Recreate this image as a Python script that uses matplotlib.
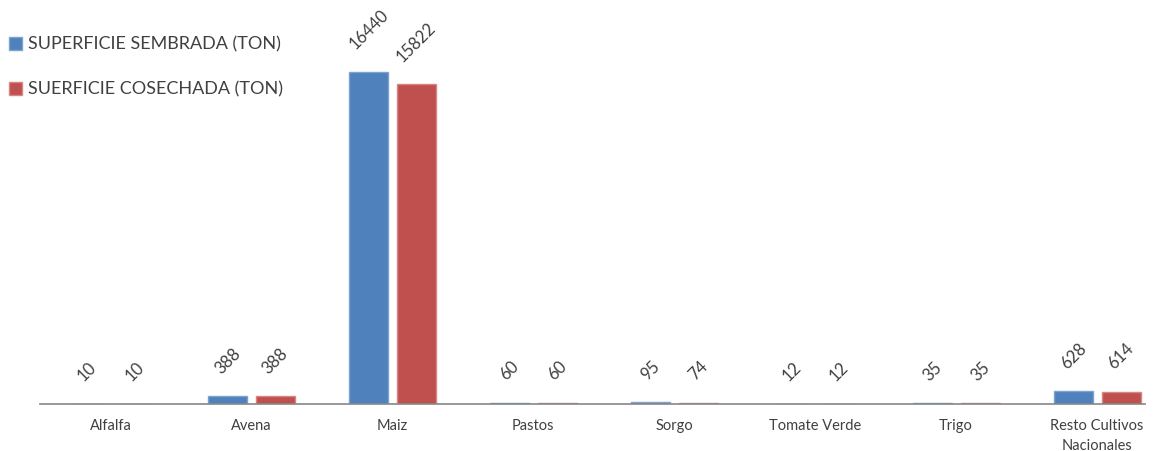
import numpy as np
import matplotlib.pyplot as plt

# data
cultivos = ["Alfalfa", "Avena", "Maiz", "Pastos", "Sorgo", "Tomate Verde",
            "Trigo", "Resto Cultivos\nNacionales"]
sembrada = [10, 388, 16440, 60, 95, 12, 35, 628]
cosechada = [10, 388, 15822, 60, 74, 12, 35, 614]
labels = ["SUPERFICIE SEMBRADA (TON)", "SUERFICIE COSECHADA (TON)"]

plt.rcParams['font.family'] = ['Lato', 'DejaVu Sans']

fig = plt.figure(figsize=(11.58, 4.51), dpi=100)
ax = fig.add_axes([40/1158, 47/451, 1105/1158, 404/451])

x = np.arange(len(cultivos))
w = 0.277
b1 = ax.bar(x - 0.168, sembrada, w, color="#4F81BD", edgecolor="#7FA3CF",
            linewidth=1.0, label=labels[0])
b2 = ax.bar(x + 0.170, cosechada, w, color="#C0504D", edgecolor="#D68683",
            linewidth=1.0, label=labels[1])

for bars, vals in [(b1, sembrada), (b2, cosechada)]:
    for rect, v in zip(bars, vals):
        ax.annotate(str(v), (rect.get_x() + rect.get_width() / 2, rect.get_height()),
                    xytext=(0, 14), textcoords="offset points",
                    ha="center", va="bottom", rotation=45,
                    fontsize=12, color="#404040")

ax.set_xlim(-0.5, 7.34)
ax.set_ylim(0, 20000)
ax.set_xticks(x)
ax.set_xticklabels(cultivos, fontsize=10.5, color="#404040", linespacing=1.5)
ax.tick_params(axis="x", length=0, pad=11)
ax.set_yticks([])
for s in ["top", "right", "left"]:
    ax.spines[s].set_visible(False)
ax.spines["bottom"].set_color("#868686")
ax.spines["bottom"].set_linewidth(1.2)

fig.legend(loc="upper left", bbox_to_anchor=(-0.006, 0.955), frameon=False,
           fontsize=13, handlelength=0.7, handleheight=0.7, handletextpad=0.35,
           labelspacing=1.6, labelcolor="#404040")

fig.savefig("out.png", dpi=100)
